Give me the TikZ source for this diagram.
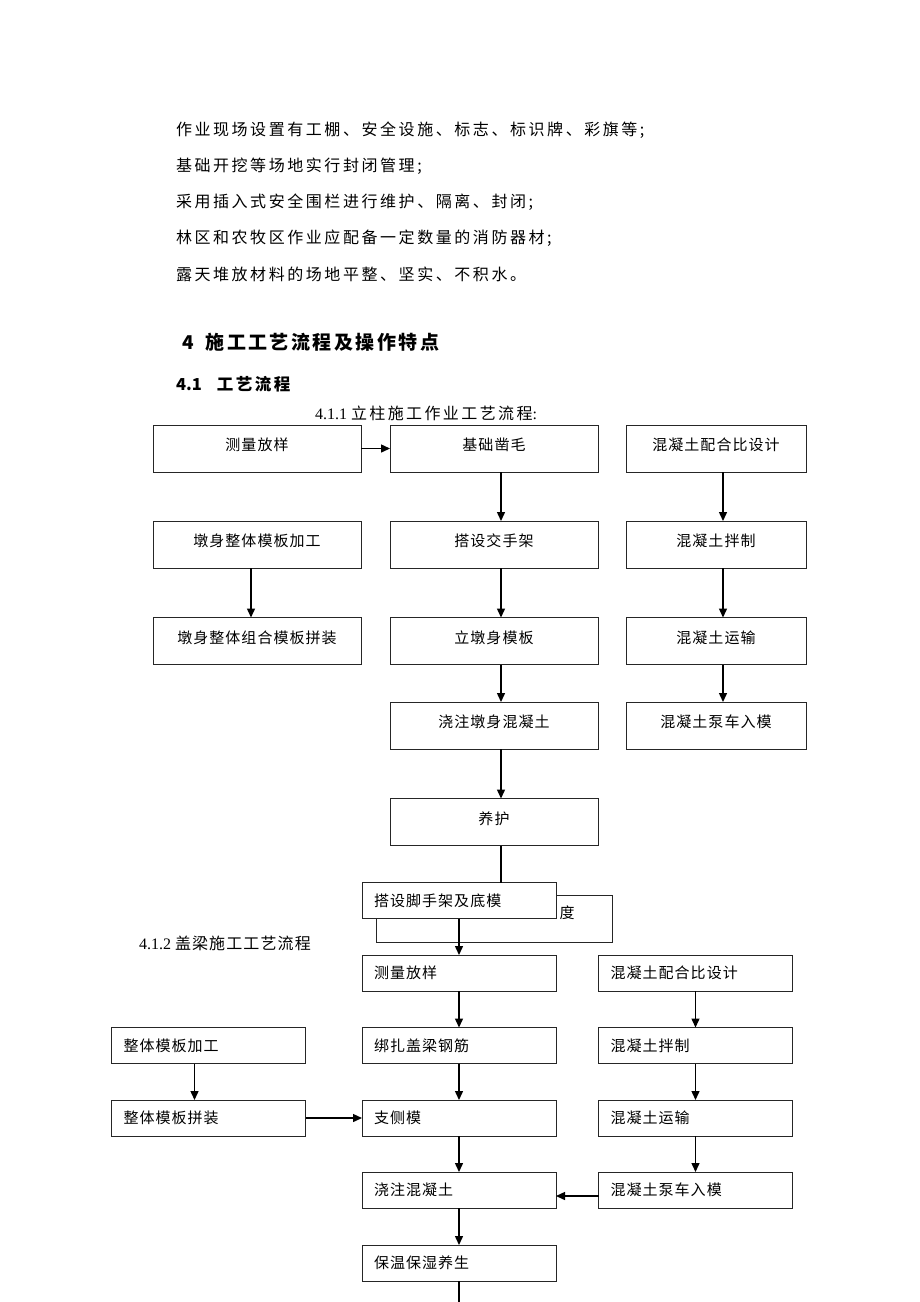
\documentclass[tikz,border=0pt]{standalone}
\usepackage{fontspec}
\setmainfont{Liberation Serif}
\newfontfamily\cjk{Noto Sans CJK SC}
\newfontfamily\cjkA[LetterSpace=16]{Noto Sans CJK SC}
\newfontfamily\cjkB[LetterSpace=15]{Noto Sans CJK SC}
\newfontfamily\cjkH[LetterSpace=13]{Noto Sans CJK SC}
\newfontfamily\cjkC[LetterSpace=7]{Noto Sans CJK SC}
\usetikzlibrary{arrows.meta}
\begin{document}
\begin{tikzpicture}[x=1pt,y=-1pt,
  every node/.style={inner sep=0pt, outer sep=0pt},
  para/.style={anchor=west, font=\cjkA\fontsize{16}{18}\selectfont},
  boxA/.style={draw=black!85, line width=1pt, minimum width=208pt, text height=25.7pt, text depth=21.3pt,
    inner xsep=0pt, inner ysep=0pt, font=\cjkC\fontsize{15}{18}\selectfont},
  boxB/.style={draw=black!85, line width=1pt, minimum height=36pt, text width=170pt, inner xsep=12pt,
    align=left, font=\cjkC\fontsize{15}{18}\selectfont},
  arr/.style={line width=1.4pt, -{Triangle[length=9pt,width=8pt]}},
  conn/.style={line width=1.4pt}]
\useasboundingbox[fill=white] (0,0) rectangle (920,1302);

% ---- paragraph text
\node[para] (p1) at (176,130) {作业现场设置有工棚、安全设施、标志、标识牌、彩旗等;};
\node[para] (p2) at (176,166) {基础开挖等场地实行封闭管理;};
\node[para] (p3) at (176,202) {采用插入式安全围栏进行维护、隔离、封闭;};
\node[para] (p4) at (176,238) {林区和农牧区作业应配备一定数量的消防器材;};
\node[para] (p5) at (176,274) {露天堆放材料的场地平整、坚实、不积水。};
\node[anchor=west, font=\fontsize{19}{21}\selectfont\bfseries] (h1) at (182,342) {{\cjk 4}\hspace{12pt}{\cjkH 施工工艺流程及操作特点}};
\node[anchor=west, font=\fontsize{16.5}{18}\selectfont\bfseries] (h2) at (176,384) {{\cjk 4.1}\hspace{15pt}{\cjkB 工艺流程}};
\node[anchor=west, font=\fontsize{16}{18}\selectfont] (t1) at (315,413) {4.1.1 {\cjkB 立柱施工作业工艺流程}:};

% ---- section 1 boxes
\node[boxA] (a1) at (257,448.5) {测量放样};
\node[boxA] (a2) at (257,544.5) {墩身整体模板加工};
\node[boxA] (a3) at (257,641) {墩身整体组合模板拼装};
\node[boxA] (b1) at (494,448.5) {基础凿毛};
\node[boxA] (b2) at (494,544.5) {搭设交手架};
\node[boxA] (b3) at (494,641) {立墩身模板};
\node[boxA] (b4) at (494,725.5) {浇注墩身混凝土};
\node[boxA] (b5) at (494,822) {养护};
\node[boxA, minimum width=180pt] (c1) at (716,448.5) {混凝土配合比设计};
\node[boxA, minimum width=180pt] (c2) at (716,544.5) {混凝土拌制};
\node[boxA, minimum width=180pt] (c3) at (716,641) {混凝土运输};
\node[boxA, minimum width=180pt] (c4) at (716,725.5) {混凝土泵车入模};

\draw[arr] (a1.east) -- (b1.west);
\draw[arr] ([xshift=-6pt]a2.south) -- ([xshift=-6pt]a3.north);
\draw[arr] ([xshift=7pt]b1.south) -- ([xshift=7pt]b2.north);
\draw[arr] ([xshift=7pt]b2.south) -- ([xshift=7pt]b3.north);
\draw[arr] ([xshift=7pt]b3.south) -- ([xshift=7pt]b4.north);
\draw[arr] ([xshift=7pt]b4.south) -- ([xshift=7pt]b5.north);
\draw[arr] ([xshift=7pt]c1.south) -- ([xshift=7pt]c2.north);
\draw[arr] ([xshift=7pt]c2.south) -- ([xshift=7pt]c3.north);
\draw[arr] ([xshift=7pt]c3.south) -- ([xshift=7pt]c4.north);

% ---- overlapping boxes
\node[draw=black!85, line width=1pt, minimum width=236pt, minimum height=47pt] (back) at (494,918.5) {};
\node[font=\cjk\fontsize{15}{18}\selectfont] (du) at (567,913) {度};
\node[boxB, fill=white] (front) at (459,900.5) {搭设脚手架及底模};
\draw[conn] ([xshift=7pt]b5.south) -- ([xshift=7pt]b5.south |- front.north);

% ---- section 2
\node[anchor=west, font=\fontsize{16}{18}\selectfont] (t2) at (139,943) {4.1.2 {\cjkC 盖梁施工工艺流程}};

\node[boxB] (B1) at (459,973) {测量放样};
\node[boxB] (B2) at (459,1045.5) {绑扎盖梁钢筋};
\node[boxB] (B3) at (459,1118) {支侧模};
\node[boxB] (B4) at (459,1190) {浇注混凝土};
\node[boxB] (B5) at (459,1263) {保温保湿养生};
\node[boxB] (A2) at (208.5,1045.5) {整体模板加工};
\node[boxB] (A3) at (208.5,1118) {整体模板拼装};
\node[boxB] (C1) at (695.5,973) {混凝土配合比设计};
\node[boxB] (C2) at (695.5,1045.5) {混凝土拌制};
\node[boxB] (C3) at (695.5,1118) {混凝土运输};
\node[boxB] (C4) at (695.5,1190) {混凝土泵车入模};
\coordinate (end) at (459,1302);

\draw[arr] (front.south) -- (B1.north);
\draw[arr] (B1) -- (B2);
\draw[arr] (B2) -- (B3);
\draw[arr] (B3) -- (B4);
\draw[arr] (B4) -- (B5);
\draw[conn] (B5.south) -- (end);
\draw[arr] (C1) -- (C2);
\draw[arr] (C2) -- (C3);
\draw[arr] (C3) -- (C4);
\draw[arr] ([xshift=-14pt]A2.south) -- ([xshift=-14pt]A3.north);
\draw[arr] (A3.east) -- (B3.west);
\draw[arr] ([yshift=-6pt]C4.west) -- ([yshift=-6pt]C4.west -| B4.east);
\end{tikzpicture}
\end{document}
